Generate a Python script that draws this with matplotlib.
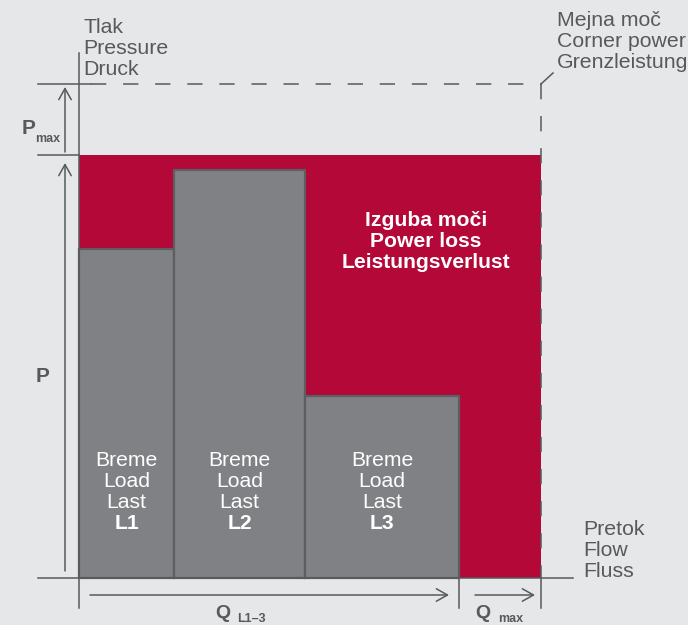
import matplotlib.pyplot as plt
import matplotlib.patches as patches

# loads (flow width, pressure), origin at the axis corner
loads = ["L1", "L2", "L3"]
load_flow = [95, 131, 154]
load_pressure = [329, 408, 182]
p_total = 423      # top of the red area
p_max = 494        # dashed corner-power line
q_max = 462        # right edge of the red area

load_lines = ["Breme", "Load", "Last"]
pressure_lines = ["Tlak", "Pressure", "Druck"]
corner_lines = ["Mejna moč", "Corner power", "Grenzleistung"]
flow_lines = ["Pretok", "Flow", "Fluss"]
loss_lines = ["Izguba moči", "Power loss", "Leistungsverlust"]

bg = "#e6e7e8"
red = "#b30838"
bar_grey = "#808184"
edge_grey = "#5d5e60"
ink = "#58595b"

plt.rcParams["font.family"] = ["Liberation Sans", "DejaVu Sans"]

fig = plt.figure(figsize=(6.88, 6.25), dpi=100, facecolor=bg)
ax = fig.add_axes([0, 0, 1, 1])
ax.set_facecolor(bg)
ax.set_xlim(-79, 609)
ax.set_ylim(-47, 578)
ax.axis("off")

# power loss area
ax.add_patch(patches.Rectangle((0, 0), q_max, p_total, color=red, lw=0, zorder=1))

# load bars
left = 0
centers = []
for w, h in zip(load_flow, load_pressure):
    ax.add_patch(patches.Rectangle((left, 0), w, h, facecolor=bar_grey,
                                   edgecolor=edge_grey, lw=1.6, zorder=2))
    centers.append(left + w / 2)
    left += w
q_loads = left

lw = 1.1
# axes
ax.plot([0, 0], [-30, 525], color=ink, lw=lw, zorder=3)
ax.plot([-41, 494], [0, 0], color=ink, lw=lw, zorder=3)
# corner power dashed lines
ax.plot([-41, 12], [p_max, p_max], color=ink, lw=lw, zorder=3)
ax.plot([12, q_max], [p_max, p_max], color=ink, lw=lw, dashes=(10, 11), zorder=3)
ax.plot([q_max, q_max], [p_max, 0], color=ink, lw=lw, dashes=(10, 11), zorder=3)
ax.plot([q_max, q_max + 12], [p_max, p_max + 11], color=ink, lw=lw, zorder=3)
ax.plot([-41, 0], [p_total, p_total], color=ink, lw=lw, zorder=3)
# ticks under the flow axis
ax.plot([q_loads, q_loads], [0, -30], color=ink, lw=lw, zorder=3)
ax.plot([q_max, q_max], [0, -30], color=ink, lw=lw, zorder=3)

arrow = dict(arrowstyle="->,head_length=0.8,head_width=0.45", color=ink, lw=lw,
             shrinkA=0, shrinkB=0)
ax.annotate("", xy=(-14, p_max - 3), xytext=(-14, p_total + 3), arrowprops=arrow)
ax.annotate("", xy=(-14, p_total - 8), xytext=(-14, 7), arrowprops=arrow)
ax.annotate("", xy=(q_loads - 10, -17), xytext=(11, -17), arrowprops=arrow)
ax.annotate("", xy=(q_max - 6, -17), xytext=(q_loads + 16, -17), arrowprops=arrow)

fs = 15.3
step = 21
for i, s in enumerate(pressure_lines):
    ax.text(4, 545 - i * step, s, color=ink, fontsize=fs, va="baseline")
for i, s in enumerate(corner_lines):
    ax.text(478, 552 - i * step, s, color=ink, fontsize=fs, va="baseline")
for i, s in enumerate(flow_lines):
    ax.text(504, 43 - i * step, s, color=ink, fontsize=fs, va="baseline")

for c, name in zip(centers, loads):
    for i, s in enumerate(load_lines + [name]):
        ax.text(c, 112 - i * 21, s, color="white", fontsize=15.2, ha="center",
                va="baseline", fontweight="bold" if s == name else "normal")

loss_x = (load_flow[0] + load_flow[1] + q_max) / 2 + 3
for i, s in enumerate(loss_lines):
    ax.text(loss_x, 352 - i * step, s, color="white", fontsize=15.2,
            ha="center", va="baseline", fontweight="bold")

ax.text(-43, 196, "P", color=ink, fontsize=15, fontweight="bold", va="baseline")
ax.text(-57, 444, "P", color=ink, fontsize=15, fontweight="bold", va="baseline")
ax.text(-44, 436, "max", color=ink, fontsize=9, fontweight="bold", va="baseline")
ax.text(136, -40, "Q", color=ink, fontsize=14, fontweight="bold", va="baseline")
ax.text(158, -43.5, "L1–3", color=ink, fontsize=9, fontweight="bold", va="baseline")
ax.text(396, -40, "Q", color=ink, fontsize=14, fontweight="bold", va="baseline")
ax.text(419, -43.5, "max", color=ink, fontsize=9, fontweight="bold", va="baseline")

fig.savefig("out.png", dpi=100, facecolor=bg)
